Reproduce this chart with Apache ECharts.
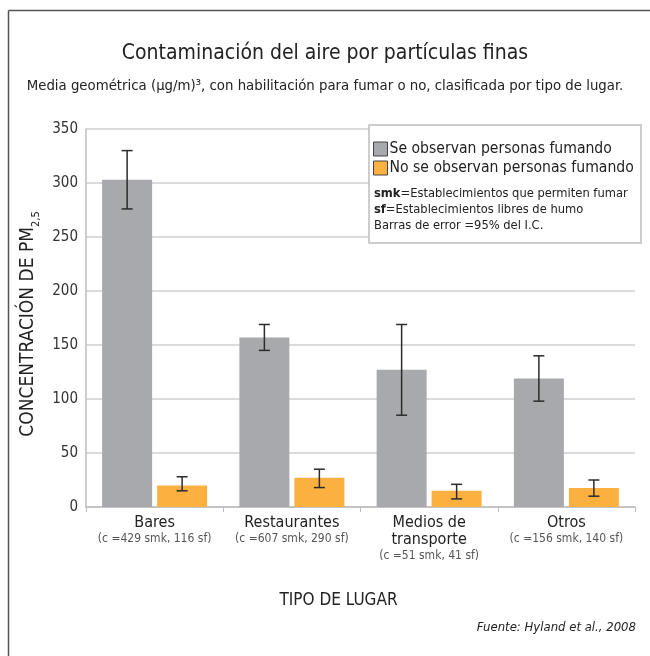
<!DOCTYPE html>
<html>
<head>
<meta charset="utf-8">
<script src="https://cdn.jsdelivr.net/npm/echarts@6/dist/echarts.min.js"></script>
<style>html,body{margin:0;padding:0;background:#fff}#c{width:650px;height:656px}</style>
</head>
<body>
<div id="c"></div>
<script>
// ---- data ----
const categories = ['Bares', 'Restaurantes', 'Medios de\ntransporte', 'Otros'];
const smkCounts = [429, 607, 51, 156];
const sfCounts = [116, 290, 41, 140];
const seriesNames = ['Se observan personas fumando', 'No se observan personas fumando'];
const smokingMean = [303, 157, 127, 119];
const smokingLow = [276, 145, 85, 98];
const smokingHigh = [330, 169, 169, 140];
const freeMean = [20, 27, 15, 17.5];
const freeLow = [15, 18, 7.5, 10];
const freeHigh = [28, 35, 21, 25];
const yTicks = [0, 50, 100, 150, 200, 250, 300, 350];

const FONT = '"Liberation Sans Narrow", "DejaVu Sans Condensed", "Roboto", sans-serif';
const GRAY = '#a8a9ac';
const ORANGE = '#fbb040';
const BAR_W = 50;
const BAR_GAP = 5;

function errSeries(low, high, sign) {
  return {
    type: 'custom',
    silent: true,
    z: 10,
    data: low.map((l, i) => [i, l, high[i]]),
    renderItem: function (params, api) {
      const idx = api.value(0);
      const pLow = api.coord([idx, api.value(1)]);
      const pHigh = api.coord([idx, api.value(2)]);
      const x = pLow[0] + sign * (BAR_W + BAR_GAP) / 2;
      const hw = 5.5;
      const st = { stroke: '#2b2b2b', lineWidth: 1.5 };
      return {
        type: 'group',
        children: [
          { type: 'line', shape: { x1: x, y1: pHigh[1], x2: x, y2: pLow[1] }, style: st },
          { type: 'line', shape: { x1: x - hw, y1: pHigh[1], x2: x + hw, y2: pHigh[1] }, style: st },
          { type: 'line', shape: { x1: x - hw, y1: pLow[1], x2: x + hw, y2: pLow[1] }, style: st }
        ]
      };
    }
  };
}

const chart = echarts.init(document.getElementById('c'), null, { renderer: 'canvas' });
chart.setOption({
  animation: false,
  textStyle: { fontFamily: FONT },
  title: [{
    text: 'Contaminación del aire por partículas finas',
    left: 'center', top: 38,
    textStyle: { fontFamily: FONT, fontSize: 21, fontWeight: 'normal', color: '#222' }
  }, {
    text: 'Media geométrica (µg/m)³, con habilitación para fumar o no, clasificada por tipo de lugar.',
    left: 'center', top: 74,
    textStyle: { fontFamily: FONT, fontSize: 14.8, fontWeight: 'normal', color: '#222' }
  }],
  legend: {
    data: seriesNames,
    orient: 'vertical',
    left: 373, top: 141,
    padding: 0,
    z: 20,
    itemWidth: 14, itemHeight: 14, itemGap: 3,
    icon: 'rect',
    itemStyle: { borderColor: '#444', borderWidth: 1 },
    textStyle: { fontFamily: FONT, fontSize: 15.6, color: '#222', padding: [0, 0, 0, -3] },
    selectedMode: false
  },
  grid: { left: 86, right: 15, top: 129, bottom: 149 },
  xAxis: {
    type: 'category',
    data: categories,
    axisLine: { lineStyle: { color: '#bdbdbd', width: 1.5 } },
    axisTick: { show: true, length: 5, lineStyle: { color: '#bdbdbd' } },
    axisLabel: {
      margin: 7,
      interval: 0,
      lineHeight: 17,
      formatter: function (v, i) {
        const lines = v.split('\n').map(s => '{n|' + s + '}').join('\n');
        return lines + '\n{c|(c =' + smkCounts[i] + ' smk, ' + sfCounts[i] + ' sf)}';
      },
      rich: {
        n: { fontFamily: FONT, fontSize: 16, color: '#222', lineHeight: 17 },
        c: { fontFamily: FONT, fontSize: 12, color: '#555', lineHeight: 15 }
      }
    },
    name: 'TIPO DE LUGAR',
    nameLocation: 'middle',
    nameGap: 85,
    nameTextStyle: { fontFamily: FONT, fontSize: 17, color: '#222', padding: [0, 44, 0, 0] }
  },
  yAxis: {
    type: 'value',
    min: yTicks[0], max: yTicks[yTicks.length - 1], interval: 50,
    axisLine: { show: true, lineStyle: { color: '#bdbdbd', width: 1.5 } },
    axisTick: { show: false },
    splitLine: { lineStyle: { color: '#cfcfcf', width: 1.5 } },
    axisLabel: { fontFamily: FONT, fontSize: 15, color: '#333', margin: 8 },
    name: '{a|CONCENTRACIÓN DE PM}{s|2,5}',
    nameLocation: 'middle',
    nameRotate: 90,
    nameGap: 46,
    nameTextStyle: {
      padding: [0, 12, 0, 0],
      rich: {
        a: { fontFamily: FONT, fontSize: 19, color: '#222' },
        s: { fontFamily: FONT, fontSize: 11, color: '#222', verticalAlign: 'bottom', padding: [0, 0, -4, 0] }
      }
    }
  },
  series: [{
    name: seriesNames[0], type: 'bar', data: smokingMean,
    barWidth: BAR_W, barGap: (BAR_GAP / BAR_W * 100) + '%',
    itemStyle: { color: GRAY }
  }, {
    name: seriesNames[1], type: 'bar', data: freeMean,
    barWidth: BAR_W,
    itemStyle: { color: ORANGE }
  },
  errSeries(smokingLow, smokingHigh, -1),
  errSeries(freeLow, freeHigh, 1)
  ],
  graphic: [
    { type: 'line', shape: { x1: 8.5, y1: 10.5, x2: 8.5, y2: 656 }, style: { stroke: '#555', lineWidth: 1.5 } },
    { type: 'line', shape: { x1: 8.5, y1: 10.5, x2: 650, y2: 10.5 }, style: { stroke: '#555', lineWidth: 1.5 } },
    { type: 'rect', shape: { x: 369, y: 125, width: 272, height: 118 }, style: { fill: '#fff', stroke: '#bdbdbd', lineWidth: 1.5 }, z: 5 },
    { type: 'text', left: 374, top: 186, z: 6, style: {
        text: '{b|smk}=Establecimientos que permiten fumar\n{b|sf}=Establecimientos libres de humo\nBarras de error =95% del I.C.',
        fontFamily: FONT, fontSize: 12.8, lineHeight: 16, fill: '#222',
        rich: { b: { fontFamily: FONT, fontSize: 12.8, fontWeight: 'bold', fill: '#222', lineHeight: 16 } }
      } },
    { type: 'text', right: 14, top: 621, style: {
        text: 'Fuente: Hyland et al., 2008', fontFamily: FONT, fontSize: 13, fontStyle: 'italic', fill: '#222'
      } }
  ]
});
</script>
</body>
</html>
